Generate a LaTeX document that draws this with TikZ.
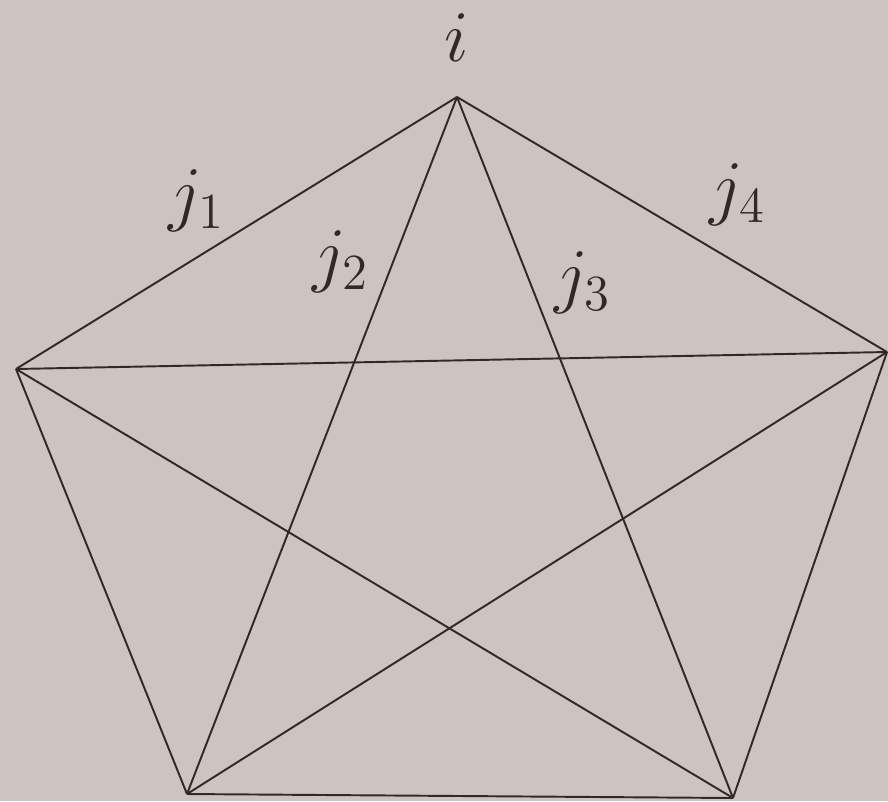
\documentclass[tikz,border=0pt]{standalone}
\definecolor{bgc}{RGB}{204,196,193}
\definecolor{inkc}{RGB}{50,40,40}
\begin{document}
\begin{tikzpicture}[x=0.1mm,y=-0.1mm,
  edge/.style={draw=inkc,line width=0.55pt},
  vtx/.style={inner sep=0pt,minimum size=0pt},
  lbl/.style={inner sep=0pt,text=inkc,font=\fontsize{22.5}{27}\selectfont}]
\fill[bgc] (0,0) rectangle (888,801);
\useasboundingbox (0,0) rectangle (888,801);
\coordinate (t) at (457,97);
\coordinate (l) at (16,369);
\coordinate (r) at (887,352);
\coordinate (bl) at (187,794);
\coordinate (br) at (733,798);
\foreach \a/\b in {t/l,t/r,t/bl,t/br,l/r,l/bl,l/br,r/bl,r/br,bl/br}
  \draw[edge] (\a) -- (\b);
\node[lbl] (li) at (457,38) {$i$};
\node[lbl] (l1) at (197,201) {$j_1$};
\node[lbl] (l2) at (341,262) {$j_2$};
\node[lbl] (l3) at (583,283) {$j_3$};
\node[lbl] (l4) at (738,195) {$j_4$};
\end{tikzpicture}
\end{document}
